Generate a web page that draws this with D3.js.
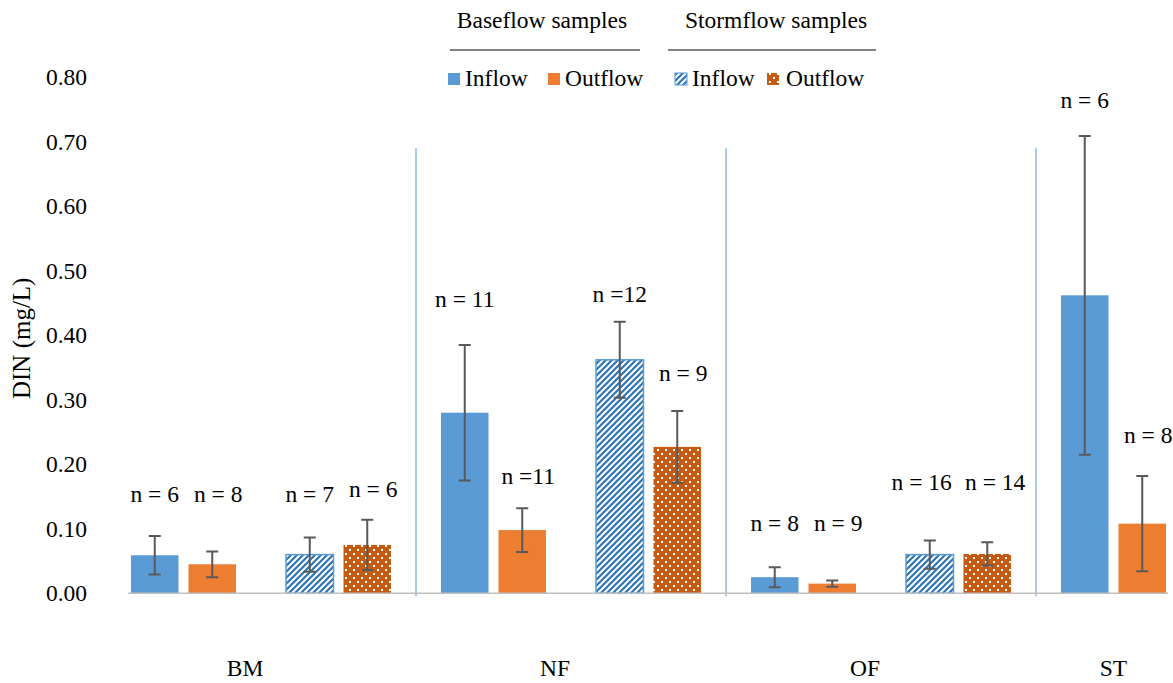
<!DOCTYPE html>
<html>
<head>
<meta charset="utf-8">
<script src="https://cdn.jsdelivr.net/npm/d3@7"></script>
<style>
	body { margin: 0; background: #fff; }
</style>
</head>
<body>
<svg id="chart" width="1173" height="683" font-family="'Liberation Serif', 'DejaVu Serif', serif"></svg>
<script>
// Sites
const categories = ["BM", "NF", "OF", "ST"];

// DIN means (mg/L) and error bar half-widths
const baseIn = [0.059, 0.280, 0.025, 0.462];
const baseInSd = [0.030, 0.105, 0.0155, 0.247];
const baseOut = [0.045, 0.098, 0.015, 0.108];
const baseOutSd = [0.020, 0.034, 0.005, 0.074];
const stormIn = [0.060, 0.362, 0.060, null];
const stormInSd = [0.0265, 0.059, 0.022, null];
const stormOut = [0.075, 0.227, 0.061, null];
const stormOutSd = [0.039, 0.0555, 0.018, null];

// sample size labels and the level (mg/L) where each one sits
const nBaseIn = ["n = 6", "n = 11", "n = 8", "n = 6"];
const nBaseOut = ["n = 8", "n =11", "n = 9", "n = 8"];
const nStormIn = ["n = 7", "n =12", "n = 16", null];
const nStormOut = ["n = 6", "n = 9", "n = 14", null];
const nBaseInAt = [0.141, 0.444, 0.097, 0.752];
const nBaseOutAt = [0.141, 0.169, 0.097, 0.233];
const nStormInAt = [0.141, 0.452, 0.160, null];
const nStormOutAt = [0.150, 0.329, 0.160, null];

const yTicks = [0, 0.1, 0.2, 0.3, 0.4, 0.5, 0.6, 0.7, 0.8];

const series = [
	{ group: "base", flow: "Inflow", values: baseIn, sd: baseInSd, n: nBaseIn, nAt: nBaseInAt },
	{ group: "base", flow: "Outflow", values: baseOut, sd: baseOutSd, n: nBaseOut, nAt: nBaseOutAt },
	{ group: "storm", flow: "Inflow", values: stormIn, sd: stormInSd, n: nStormIn, nAt: nStormInAt },
	{ group: "storm", flow: "Outflow", values: stormOut, sd: stormOutSd, n: nStormOut, nAt: nStormOutAt }
];

const svg = d3.select("#chart");
const SERIF = "'Liberation Serif', 'DejaVu Serif', serif";
const FONT = 23.5;

// every text goes through here so the serif face is set on the element itself
function label(sel, size) {
	return sel.style("font-family", SERIF).style("font-size", size + "px").attr("fill", "#000");
}

// patterns for the stormflow bars
const defs = svg.append("defs");
const stripes = defs.append("pattern").attr("id", "stripes")
	.attr("patternUnits", "userSpaceOnUse").attr("width", 6).attr("height", 6);
stripes.append("rect").attr("width", 6).attr("height", 6).attr("fill", "#fff");
stripes.append("path").attr("d", "M-1,1 l2,-2 M0,6 l6,-6 M5,7 l2,-2")
	.attr("stroke", "#2e75b6").attr("stroke-width", 2.2);
const dots = defs.append("pattern").attr("id", "dots")
	.attr("patternUnits", "userSpaceOnUse").attr("width", 8).attr("height", 8);
dots.append("rect").attr("width", 8).attr("height", 8).attr("fill", "#c55a11");
dots.append("rect").attr("x", 1).attr("y", 1).attr("width", 2).attr("height", 2).attr("fill", "#fff");
dots.append("rect").attr("x", 5).attr("y", 5).attr("width", 2).attr("height", 2).attr("fill", "#fff");

const fillOf = s => s.group === "base" ? (s.flow === "Inflow" ? "#5b9bd5" : "#ed7d31")
	: (s.flow === "Inflow" ? "url(#stripes)" : "url(#dots)");

// scales
const y = d3.scaleLinear().domain([0, 0.8]).range([593.3, 77.3]);
const xCat = d3.scaleBand().domain(categories).range([106, 1346])
	.paddingInner(50 / 310).paddingOuter(25 / 310);
const xGroup = d3.scaleBand().domain(["base", "storm"]).range([0, xCat.bandwidth()])
	.paddingInner(50 / 155);
const xFlow = d3.scaleBand().domain(["Inflow", "Outflow"]).range([0, xGroup.bandwidth()])
	.paddingInner(10 / 57.5);

const barX = (s, i) => xCat(categories[i]) + xGroup(s.group) + xFlow(s.flow);
const bw = xFlow.bandwidth();

// y axis labels only
const yAxis = svg.append("g").attr("transform", "translate(87,0)")
	.call(d3.axisLeft(y).tickValues(yTicks).tickFormat(d3.format(".2f")).tickSize(0).tickPadding(0));
yAxis.attr("font-family", null).attr("font-size", null);
yAxis.select(".domain").remove();
label(yAxis.selectAll("text"), FONT);

label(svg.append("text").attr("transform", `translate(30,${y(0.4) + 3}) rotate(-90)`)
	.attr("text-anchor", "middle"), 25).text("DIN (mg/L)");

// separators between sites
categories.slice(1).forEach(c => {
	const sx = xCat(c) - (xCat.step() - xCat.bandwidth()) / 2;
	svg.append("line").attr("x1", sx).attr("x2", sx)
		.attr("y1", y(0.69)).attr("y2", y(0) + 3)
		.attr("stroke", "#8fb9e3").attr("stroke-width", 1.5);
});

// bars, error bars and n labels
series.forEach(s => {
	const idx = s.values.map((v, i) => i).filter(i => s.values[i] != null);
	const g = svg.append("g");
	g.selectAll("rect").data(idx).enter().append("rect")
		.attr("x", i => barX(s, i)).attr("width", bw)
		.attr("y", i => y(s.values[i])).attr("height", i => y(0) - y(s.values[i]))
		.attr("fill", fillOf(s))
		.attr("stroke", s.group === "storm" && s.flow === "Inflow" ? "#5b9bd5" : "none")
		.attr("stroke-width", 1.5);

	idx.forEach(i => {
		const cx = barX(s, i) + bw / 2;
		const hi = y(s.values[i] + s.sd[i]), lo = y(s.values[i] - s.sd[i]);
		g.append("path")
			.attr("d", `M${cx},${hi}V${lo}M${cx - 6},${hi}H${cx + 6}M${cx - 6},${lo}H${cx + 6}`)
			.attr("stroke", "#595959").attr("stroke-width", 2).attr("fill", "none");
		// labels are nudged sideways a little in the original so neighbours don't touch
		let shift = 0;
		if (s.flow === "Outflow") shift = s.n[i].length > 5 ? 8 : 6;
		else if (s.group === "storm" && s.n[i].length > 5) shift = -8;
		label(g.append("text").attr("x", cx + shift).attr("y", y(s.nAt[i]))
			.attr("text-anchor", "middle"), FONT).text(s.n[i]);
	});
});

// baseline
svg.append("line").attr("x1", 128).attr("x2", 1168).attr("y1", y(0)).attr("y2", y(0))
	.attr("stroke", "#bfbfbf").attr("stroke-width", 1.5);

// site labels under the axis
categories.forEach((c, i) => {
	const present = series.filter(s => s.values[i] != null);
	const left = d3.min(present, s => barX(s, i));
	const right = d3.max(present, s => barX(s, i)) + bw;
	const nudge = present.length > 2 ? -16 : 0;
	label(svg.append("text").attr("x", (left + right) / 2 + nudge).attr("y", 676)
		.attr("text-anchor", "middle"), FONT).text(c);
});

// legend
const legendGroups = [
	{ title: "Baseflow samples", cx: 542, x1: 450, x2: 640 },
	{ title: "Stormflow samples", cx: 776, x1: 668, x2: 876 }
];
legendGroups.forEach(d => {
	label(svg.append("text").attr("x", d.cx).attr("y", 28).attr("text-anchor", "middle"), FONT)
		.text(d.title);
	svg.append("line").attr("x1", d.x1).attr("x2", d.x2).attr("y1", 50).attr("y2", 50)
		.attr("stroke", "#595959").attr("stroke-width", 1.5);
});
const legendX = [448, 548, 675, 767];
series.forEach((s, k) => {
	svg.append("rect").attr("x", legendX[k]).attr("y", 73).attr("width", 12).attr("height", 12)
		.attr("fill", fillOf(s))
		.attr("stroke", s.group === "storm" && s.flow === "Inflow" ? "#5b9bd5" : "none")
		.attr("stroke-width", 1);
	label(svg.append("text").attr("x", legendX[k] + 17 + (k === 3 ? 2 : 0)).attr("y", 86), FONT)
		.text(s.flow);
});
</script>
</body>
</html>
